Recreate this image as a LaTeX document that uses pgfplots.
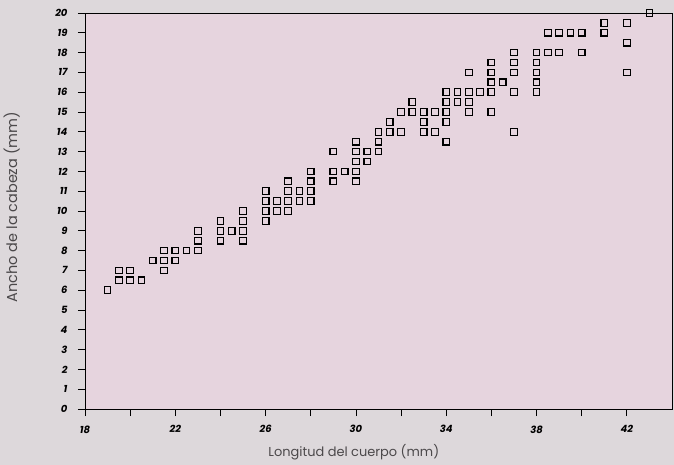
\documentclass[border=0pt]{standalone}
\usepackage{fontspec}
\setmainfont{Poppins}
\usepackage{pgfplots}
\pgfplotsset{compat=1.18}
\definecolor{paper}{RGB}{221,216,219}
\definecolor{plotbg}{RGB}{230,212,222}
\definecolor{labelgray}{RGB}{75,72,74}
\begin{document}
\begin{tikzpicture}
\fill[paper] (0,0) rectangle (674bp,465bp);
\begin{axis}[
  at={(85bp,56bp)}, anchor=south west,
  scale only axis, width=587bp, height=396bp,
  xmin=18, xmax=44, ymin=0, ymax=20,
  axis background/.style={fill=plotbg},
  tick align=outside, tick pos=left,
  major tick length=7bp,
  xtick={18,20,...,42},
  xticklabels={18,,22,,26,,30,,34,,38,,42},
  ytick={0,1,...,20},
  tick label style={font=\fontsize{10}{10}\selectfont\bfseries\itshape},
  xticklabel style={yshift=-6bp},
  yticklabel style={xshift=-7bp},
  /pgf/number format/assume math mode=true,
  axis line style={black, line width=0.8pt},
  tick style={black, line width=0.8pt},
  xlabel={Longitud del cuerpo (mm)},
  ylabel={Ancho de la cabeza (mm)},
  xlabel style={at={(axis description cs:0.458,-0.1086)}, anchor=center,
    font=\fontsize{13}{14}\selectfont, text=labelgray},
  ylabel style={at={(axis description cs:-0.125,0.51)}, anchor=center,
    font=\fontsize{14.5}{16}\selectfont, text=labelgray},
]
\addplot[only marks, mark=square, mark size=3.3bp,
  mark options={line width=1.2pt, draw=black}] table {
x y
19 6
19.5 6.5
20 6.5
20.5 6.5
19.5 7
20 7
21.5 7
21 7.5
21.5 7.5
22 7.5
21.5 8
22 8
22.5 8
23 8
23 8.5
23 9
24 8.5
24 9
24 9.5
24.5 9
25 8.5
25 9
25 9.5
25 10
26 9.5
26 10
26 10.5
26 11
26.5 10
26.5 10.5
27 10
27 10.5
27 11
27 11.5
27.5 10.5
27.5 11
28 10.5
28 11
28 11.5
28 12
29 11.5
29 12
29 13
29.5 12
30 11.5
30 12
30 12.5
30 13
30 13.5
30.5 12.5
30.5 13
31 13
31 13.5
31 14
31.5 14
31.5 14.5
32 14
32 15
32.5 15
32.5 15.5
33 14
33 14.5
33 15
33.5 14
33.5 15
34 13.5
34 14.5
34 15
34 15.5
34 16
34.5 15.5
34.5 16
35 15
35 15.5
35 16
35 17
35.5 16
36 15
36 16
36 16.5
36 17
36 17.5
36.5 16.5
37 14
37 16
37 17
37 17.5
37 18
38 16
38 16.5
38 17
38 17.5
38 18
38.5 18
38.5 19
39 18
39 19
39.5 19
40 18
40 19
41 19
41 19.5
42 17
42 18.5
42 19.5
43 20
};
\end{axis}
\end{tikzpicture}
\end{document}
